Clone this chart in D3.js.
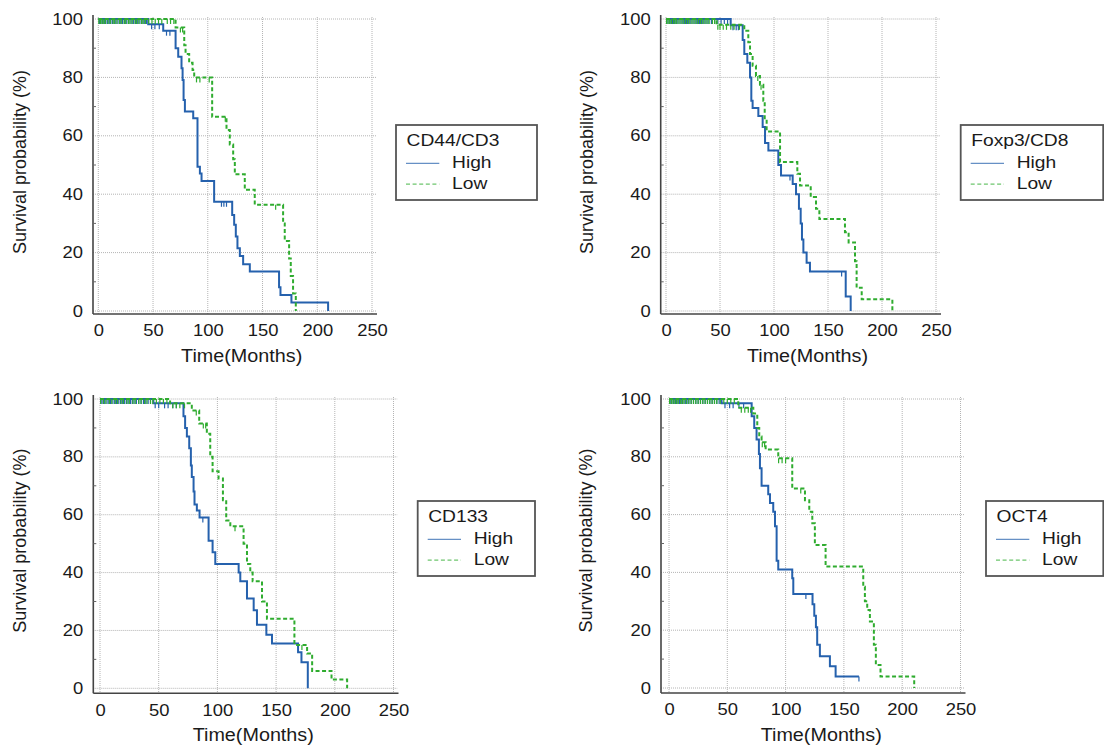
<!DOCTYPE html>
<html>
<head>
<meta charset="utf-8">
<script src="https://cdn.jsdelivr.net/npm/d3@7"></script>
<style>
  body { margin: 0; background: #fff; }
  svg { display: block; }
  text { font-family: Arial, "Liberation Sans", sans-serif; fill: #1a1a1a; }
</style>
</head>
<body>
<svg id="chart" width="1104" height="751"></svg>
<script>
// tick labels / names
const xTicks = [0, 50, 100, 150, 200, 250];
const yTicks = [0, 20, 40, 60, 80, 100];
const yMinor = [10, 30, 50, 70, 90];
const groupNames = ["High", "Low"];
const markerNames = ["CD44/CD3", "Foxp3/CD8", "CD133", "OCT4"];

// CD44/CD3  (time in months, survival % after each event, censored times)
const cd44HighTime = [45.6, 59.3, 70.6, 73.0, 76.0, 77.0, 77.9, 79.1, 86.7, 90.6, 92.8, 94.3, 105.8, 122.3, 124.1, 125.6, 127.1, 129.3, 132.3, 138.4, 165.1, 166.4, 176.4, 209.9];
const cd44HighSurv = [98.2, 96.0, 90.0, 87.1, 83.1, 79.1, 72.3, 68.3, 66.0, 49.4, 47.1, 44.5, 37.4, 32.9, 29.5, 25.5, 21.5, 18.8, 16.0, 13.5, 8.1, 5.5, 2.9, 0];
const cd44HighCens = [1, 2.5, 4, 5.5, 7, 8.5, 10, 11.5, 13, 14.5, 16, 18, 20, 22, 24, 26, 28, 30, 32, 34, 36, 38, 40, 42, 44, 48.7, 51.7, 55.7, 62.3, 65.4, 112.5, 114.7, 117.1];
const cd44LowTime = [70.6, 78.5, 79.7, 83.0, 86.1, 87.6, 104.0, 117.1, 120.1, 123.2, 124.7, 133.8, 142.9, 168.8, 170.3, 174.3, 175.8, 177.9, 180.4];
const cd44LowSurv = [97.1, 91.0, 88.0, 85.0, 82.5, 80.0, 66.5, 62.0, 57.0, 52.0, 46.8, 41.5, 36.4, 30.0, 24.0, 18.0, 12.0, 6.0, 0];
const cd44LowCens = [0.5, 2, 3.5, 5, 6.5, 9, 11, 13.5, 15, 17, 19.5, 21, 23.5, 25, 27.5, 29, 31, 33.5, 35, 37, 39.5, 41, 43, 46, 49, 52, 55, 58, 63, 66, 69, 75, 77, 89.7, 92.8, 101.3, 116, 162];

// Foxp3/CD8
const foxHighTime = [59.9, 71.0, 72.5, 75.3, 77.8, 79.0, 80.2, 85.5, 89.5, 91.7, 94.8, 104.0, 106.5, 117.3, 120.4, 123.1, 124.7, 125.9, 127.2, 130.2, 133.3, 166.4, 171.0];
const foxHighSurv = [97.9, 92.8, 88.0, 85.0, 80.0, 72.0, 69.5, 66.8, 63.0, 57.5, 55.0, 50.0, 46.4, 43.5, 40.0, 35.0, 30.0, 24.5, 20.0, 16.5, 13.5, 5.0, 0];
const foxHighCens = [1, 3, 4.5, 6, 8, 9.5, 11, 13, 15, 17, 19, 21, 23, 25, 27, 29, 31, 33, 35, 37, 39, 42, 45, 48, 51, 54, 57, 62, 65, 67, 114.8, 162.6];
const foxLowTime = [46.9, 72.5, 76.2, 77.8, 80.2, 83.3, 87.0, 90.1, 91.4, 93.2, 105.6, 121.6, 124.1, 134.0, 138.9, 142.0, 165.7, 169.1, 175.0, 176.5, 181.2, 209.6];
const foxLowSurv = [98.0, 96.0, 92.0, 88.0, 84.0, 80.5, 77.5, 72.0, 66.0, 61.5, 51.0, 47.0, 43.0, 39.0, 35.0, 31.5, 27.0, 23.5, 17.0, 8.0, 4.0, 0];
const foxLowCens = [0.5, 2, 3.5, 5, 7, 8.5, 10, 12, 14, 16, 18, 20, 22, 24, 26, 28, 30, 32, 34, 36, 38, 40, 43, 45, 48, 50, 53, 56, 60, 63, 68, 85, 88];

// CD133
const cd133HighTime = [45.5, 71.1, 72.5, 74.0, 76.0, 77.4, 78.2, 79.7, 80.5, 82.5, 84.8, 92.5, 95.9, 98.2, 118.1, 119.5, 125.2, 130.9, 133.7, 141.7, 146.5, 168.7, 171.6, 177.0];
const cd133HighSurv = [98.5, 94.0, 90.0, 87.0, 83.0, 77.0, 73.0, 68.0, 63.5, 61.5, 59.0, 51.0, 47.0, 43.0, 40.0, 37.0, 31.0, 27.0, 22.0, 18.5, 15.5, 12.5, 9.0, 0];
const cd133HighCens = [1, 2.5, 4, 6, 7.5, 9, 11, 12.5, 14, 16, 17.5, 19, 21, 22.5, 24, 26, 27.5, 29, 31, 33, 35, 37, 39, 41, 43, 47, 50, 55, 58, 62, 65, 87.6];
const cd133LowTime = [59.7, 78.2, 84.5, 91.0, 93.9, 95.9, 101.0, 104.7, 107.5, 111.0, 122.3, 125.2, 128.0, 130.0, 138.0, 142.2, 165.6, 176.4, 180.7, 197.2, 210.5];
const cd133LowSurv = [98.5, 96.0, 91.5, 88.0, 80.0, 75.0, 72.5, 65.0, 58.0, 56.0, 50.0, 43.0, 40.0, 37.0, 30.0, 24.0, 15.0, 12.0, 6.0, 3.0, 0];
const cd133LowCens = [0.5, 3, 5, 8, 10, 13, 15, 18, 20, 23, 25, 28, 30, 33, 35, 38, 40, 43, 45, 48, 51, 54, 57, 62, 65, 68, 72, 82, 88, 90, 115, 172];

// OCT4
const octHighTime = [45.1, 70.9, 73.1, 75.1, 77.1, 78.0, 79.4, 85.1, 86.6, 89.4, 90.9, 92.3, 93.7, 105.7, 106.6, 123.1, 124.6, 126.0, 127.1, 129.4, 138.0, 142.9];
const octHighSurv = [98.5, 94.0, 90.0, 86.0, 81.0, 76.0, 70.0, 67.0, 64.0, 61.0, 56.0, 44.0, 41.0, 38.0, 32.5, 29.0, 25.0, 21.0, 15.0, 11.0, 7.5, 4.0];
const octHighEnd = 162.9;
const octHighCens = [1, 2.5, 4, 5.5, 7, 9, 10.5, 12, 14, 15.5, 17, 19, 21, 23, 25, 27, 29, 31, 33, 35, 37, 39, 41, 43, 48, 52, 55, 60, 64, 117.4, 162.9];
const octLowTime = [59.4, 72.3, 75.7, 77.4, 79.4, 82.9, 93.7, 105.7, 116.6, 120.3, 122.9, 125.1, 134.3, 166.6, 168.0, 170.0, 172.3, 175.7, 177.4, 181.4, 210.3];
const octLowSurv = [97.0, 95.0, 90.0, 87.0, 85.0, 82.5, 79.5, 69.0, 65.0, 61.0, 57.0, 49.5, 42.0, 35.0, 30.0, 27.0, 23.0, 15.0, 8.0, 4.0, 0];
const octLowCens = [0.5, 2, 3.5, 5, 6.5, 8, 10, 11.5, 13, 15, 17, 19, 21, 23, 25, 27, 29, 31, 33, 35, 37, 39, 41, 44, 47, 50, 53, 56, 62, 65, 68, 70, 80, 82, 94, 97, 100, 113];

const colors = ["#2561ad", "#2fac2f"];

// panel placement on the page
const panels = [
  { name: markerNames[0], x0: 98.3, x1: 372, top: 19, bot: 311, axisX: 93, axisY: 314, yTitleX: 20,
    legend: { x: 396, y: 125, w: 141 },
    groups: [[cd44HighTime, cd44HighSurv, null, cd44HighCens], [cd44LowTime, cd44LowSurv, null, cd44LowCens]] },
  { name: markerNames[1], x0: 666, x1: 936, top: 19, bot: 311, axisX: 660.7, axisY: 314, yTitleX: 587,
    legend: { x: 960.7, y: 125, w: 142.5 },
    groups: [[foxHighTime, foxHighSurv, null, foxHighCens], [foxLowTime, foxLowSurv, null, foxLowCens]] },
  { name: markerNames[2], x0: 100, x1: 393.5, top: 399, bot: 688.3, axisX: 93.3, axisY: 693.3, yTitleX: 20,
    legend: { x: 417.7, y: 501, w: 117.3 },
    groups: [[cd133HighTime, cd133HighSurv, null, cd133HighCens], [cd133LowTime, cd133LowSurv, null, cd133LowCens]] },
  { name: markerNames[3], x0: 669, x1: 960.5, top: 399, bot: 688, axisX: 661, axisY: 693, yTitleX: 586,
    legend: { x: 986, y: 501, w: 117.3 },
    groups: [[octHighTime, octHighSurv, octHighEnd, octHighCens], [octLowTime, octLowSurv, null, octLowCens]] }
];

const svg = d3.select("#chart");
svg.append("rect").attr("width", 1104).attr("height", 751).attr("fill", "#fff");

panels.forEach(function (p) {
  var g = svg.append("g");
  var x = d3.scaleLinear().domain([0, 250]).range([p.x0, p.x1]);
  var y = d3.scaleLinear().domain([0, 100]).range([p.bot, p.top]);

  // dotted grid
  g.selectAll(".vgrid").data(xTicks).join("line")
    .attr("x1", d => x(d)).attr("x2", d => x(d))
    .attr("y1", y(100) - 2).attr("y2", p.axisY)
    .attr("stroke", "#b4b4b4").attr("stroke-dasharray", "1,1");
  g.selectAll(".hgrid").data(yTicks).join("line")
    .attr("x1", p.axisX).attr("x2", x(250) + 4)
    .attr("y1", d => y(d)).attr("y2", d => y(d))
    .attr("stroke", "#b4b4b4").attr("stroke-dasharray", "1,1");

  // axes
  var yAxis = d3.axisLeft(y).tickValues(yTicks).tickSize(0).tickPadding(8.7);
  var ya = g.append("g").attr("transform", "translate(" + p.axisX + ",0)").call(yAxis);
  ya.select(".domain").remove();
  ya.attr("font-size", 16).attr("font-family", "Arial, 'Liberation Sans', sans-serif");
  ya.selectAll("text").attr("transform", "scale(1.15,1)");

  var xAxis = d3.axisBottom(x).tickValues(xTicks).tickSize(0).tickPadding(11);
  var xa = g.append("g").attr("transform", "translate(0," + p.axisY + ")").call(xAxis);
  xa.select(".domain").remove();
  xa.attr("font-size", 16).attr("font-family", "Arial, 'Liberation Sans', sans-serif");
  xa.selectAll("text").attr("transform", "scale(1.15,1)");

  g.append("line").attr("x1", p.axisX).attr("x2", p.axisX)
    .attr("y1", y(100) - 4).attr("y2", p.axisY)
    .attr("stroke", "#444").attr("stroke-width", 1.6);
  g.append("line").attr("x1", p.axisX).attr("x2", x(250) + 5)
    .attr("y1", p.axisY).attr("y2", p.axisY)
    .attr("stroke", "#444").attr("stroke-width", 1.6);
  g.selectAll(".minor").data(yMinor).join("line")
    .attr("x1", p.axisX).attr("x2", p.axisX + 3)
    .attr("y1", d => y(d)).attr("y2", d => y(d))
    .attr("stroke", "#666");

  // axis titles
  g.append("text")
    .attr("transform", "translate(" + ((p.x0 + p.x1) / 2 + 6.5) + "," + (p.axisY + 47.5) + ") scale(1.13,1)")
    .attr("text-anchor", "middle").attr("font-size", 17.5)
    .text("Time(Months)");
  g.append("text")
    .attr("transform", "translate(" + p.yTitleX + "," + ((p.top + p.bot) / 2 - 3) + ") rotate(-90)")
    .attr("text-anchor", "middle").attr("dy", "0.35em").attr("font-size", 18)
    .text("Survival probability (%)");

  // survival curves
  var line = d3.line().x(d => x(d[0])).y(d => y(d[1])).curve(d3.curveStepAfter);
  p.groups.forEach(function (grp, i) {
    var times = grp[0], surv = grp[1], end = grp[2], cens = grp[3];
    var pts = [[0, 100]];
    times.forEach((t, k) => pts.push([t, surv[k]]));
    if (end != null) pts.push([end, surv[surv.length - 1]]);

    g.append("path").datum(pts)
      .attr("d", line)
      .attr("fill", "none")
      .attr("stroke", colors[i])
      .attr("stroke-width", 2)
      .attr("stroke-dasharray", i === 1 ? "4,2.5" : null);

    // censored cases: short downward ticks
    var survAt = function (c) {
      var k = d3.bisectRight(times, c);
      return k === 0 ? 100 : surv[k - 1];
    };
    g.selectAll(".cens" + i).data(cens).join("line")
      .attr("x1", d => x(d)).attr("x2", d => x(d))
      .attr("y1", d => y(survAt(d))).attr("y2", d => y(survAt(d)) + 5)
      .attr("stroke", colors[i]).attr("stroke-width", 1.2);
  });

  // legend
  var L = p.legend;
  var lg = g.append("g").attr("transform", "translate(" + L.x + "," + L.y + ")");
  lg.append("rect").attr("width", L.w).attr("height", 75)
    .attr("fill", "#fff").attr("stroke", "#555").attr("stroke-width", 1.8);
  lg.append("text").attr("transform", "translate(10.5,20.8) scale(1.18,1)")
    .attr("font-size", 16.3).text(p.name);
  groupNames.forEach(function (nm, i) {
    lg.append("line").attr("x1", 10).attr("x2", 43.3)
      .attr("y1", 38.3 + i * 20.8).attr("y2", 38.3 + i * 20.8)
      .attr("stroke", colors[i]).attr("stroke-opacity", 0.7).attr("stroke-width", 1.2)
      .attr("stroke-dasharray", i === 1 ? "4,2.6" : null);
    lg.append("text").attr("transform", "translate(56," + (42.8 + i * 20.8) + ") scale(1.18,1)")
      .attr("font-size", 16.3).text(nm);
  });
});
</script>
</body>
</html>
